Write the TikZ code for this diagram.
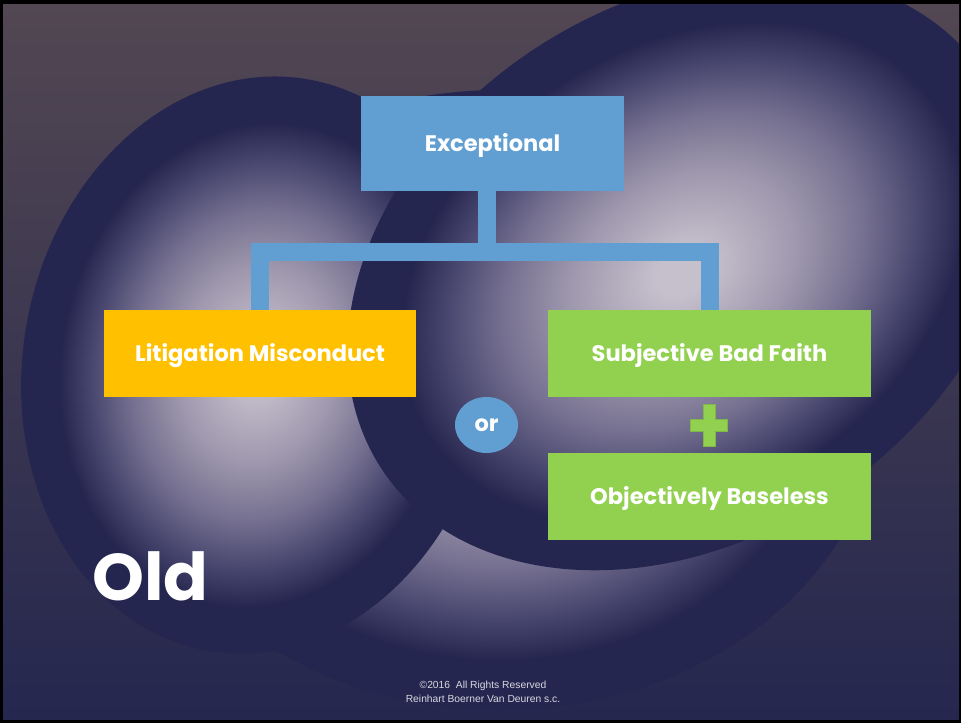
\documentclass[tikz,border=0pt]{standalone}
\usepackage{fontspec}
\usetikzlibrary{shapes.geometric}
\newfontfamily\pop{Poppins}
\newfontfamily\lib{Liberation Sans}
\definecolor{bgtop}{HTML}{524752}
\definecolor{bgmid}{HTML}{3F3851}
\definecolor{bgbot}{HTML}{25274F}
\definecolor{oA}{HTML}{C6BFCC}
\definecolor{oB}{HTML}{A29BB0}
\definecolor{oC}{HTML}{757090}
\definecolor{oD}{HTML}{4A4870}
\definecolor{rim}{HTML}{25264F}
\definecolor{blueC}{HTML}{619ED1}
\definecolor{goldC}{HTML}{FFC000}
\definecolor{greenC}{HTML}{92D050}
\definecolor{greenD}{HTML}{7FB848}
\definecolor{footC}{HTML}{D8D8E0}
\pgfdeclareradialshading{orb}{\pgfpoint{0bp}{0bp}}{%
  color(0bp)=(oA); color(2bp)=(oA); color(8bp)=(oB); color(13.5bp)=(oC);
  color(17.5bp)=(oD); color(21bp)=(rim); color(25bp)=(rim); color(50bp)=(rim)}
\tikzset{
  boxlabel/.style={font=\pop\bfseries\fontsize{22.5}{26}\selectfont, text=white,
    inner sep=0pt, align=center},
  box/.style={boxlabel, rectangle, minimum height=87pt, text height=15.7pt, text depth=0pt},
  conn/.style={draw=blueC, line width=18pt, line join=miter, line cap=butt},
  foot/.style={font=\lib\fontsize{10.3}{12}\selectfont, text=footC, inner sep=0pt},
}
\begin{document}
\begin{tikzpicture}[x=1pt,y=-1pt]
\useasboundingbox (0,0) rectangle (961,723);
\fill[black] (0,0) rectangle (961,723);
\begin{scope}
\clip (3,4) rectangle (959,719);
\shade[top color=bgtop, middle color=bgmid, bottom color=bgbot] (3,4) rectangle (959,719);
% lower orb
\begin{scope}[transform canvas={shift={(500,400)}}]
  \shade[shading=orb] (0,0) ellipse [x radius=380pt, y radius=310pt];
\end{scope}
% left orb
\begin{scope}[transform canvas={shift={(258,365)},rotate=-10}]
  \shade[shading=orb] (0,0) ellipse [x radius=235pt, y radius=290pt];
\end{scope}
% right orb
\begin{scope}[transform canvas={shift={(683,272)},rotate=33}]
  \shade[shading=orb] (0,0) ellipse [x radius=360pt, y radius=268pt];
\end{scope}
\end{scope}

% boxes
\node[box, fill=blueC, minimum width=263pt, minimum height=95pt] (exc) at (492.5,143.5) {Exceptional};
\node[box, fill=goldC, minimum width=312pt] (lit) at (260,353.5) {Litigation Misconduct};
\node[box, fill=greenC, minimum width=323pt] (sub) at (709.5,353.5) {Subjective Bad Faith};
\node[box, fill=greenC, minimum width=323pt] (obj) at (709.5,496.5) {Objectively Baseless};
\node[boxlabel, ellipse, fill=blueC, minimum width=63pt, minimum height=56pt] (or) at (486.5,425) {or};

% connectors
\coordinate (bar) at (0,252);
\draw[conn] (lit.north) -- (lit.north |- bar) -- (sub.north |- bar) -- (sub.north);
\draw[conn] ([xshift=-6pt]exc.south) -- ([xshift=-6pt]exc.south |- bar);

% plus sign
\coordinate (pl) at (709,425);
\begin{scope}[shift={(pl)}]
\filldraw[fill=greenC, draw=greenD, line width=0.8pt]
  (-18.5,-6) -- (-6,-6) -- (-6,-21) -- (6,-21) -- (6,-6) -- (18.5,-6) --
  (18.5,6) -- (6,6) -- (6,21) -- (-6,21) -- (-6,6) -- (-18.5,6) -- cycle;
\end{scope}

% titles
\node[anchor=base west, inner sep=0pt, text=white, font=\pop\bfseries\fontsize{66}{70}\selectfont] (old) at (92,600) {Old};
\node[foot] (f1) at (483,686) {©2016\ \ All Rights Reserved};
\node[foot] (f2) at (483,699) {Reinhart Boerner Van Deuren s.c.};
\end{tikzpicture}
\end{document}
